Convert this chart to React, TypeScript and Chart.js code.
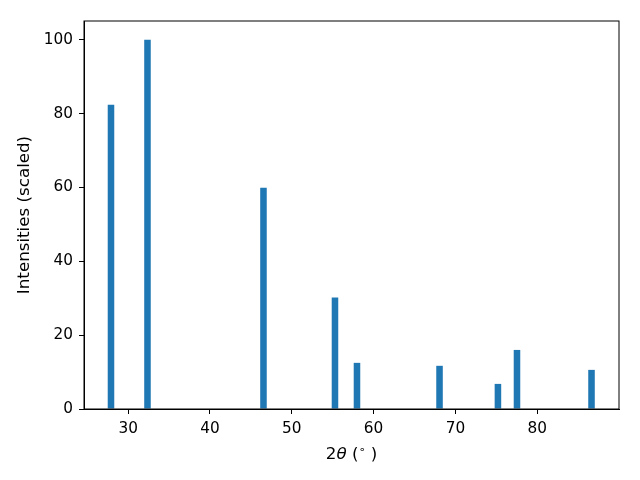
import React, { useEffect, useRef } from "react";
import { Chart, registerables } from "chart.js";

Chart.register(...registerables);

// 2θ peak positions (degrees) and scaled intensities
const twoTheta = [27.9, 32.36, 46.54, 55.28, 57.97, 68.06, 75.2, 77.53, 86.64];
const intensity = [82.4, 100, 59.9, 30.2, 12.5, 11.7, 6.8, 16.0, 10.6];
const xTicks = [30, 40, 50, 60, 70, 80];
const yTicks = [0, 20, 40, 60, 80, 100];
const xRange = [24.6, 90.0];
const yRange = [0, 105.1];
const barWidthDeg = 0.8;

const yTitle = "Intensities (scaled)";

const FONT = "'DejaVu Sans', sans-serif";
const BLUE = "#1f77b4";
const TICK_SIZE = 15.3;
const LABEL_SIZE = 16.7;

const framePlugin = {
  id: "frame",
  afterDraw(chart: any) {
    const { ctx, chartArea } = chart;
    ctx.save();
    ctx.strokeStyle = "#000";
    ctx.lineWidth = 1;
    ctx.strokeRect(chartArea.left, chartArea.top, chartArea.right - chartArea.left, chartArea.bottom - chartArea.top);
    ctx.restore();
  },
};

const xTitlePlugin = {
  id: "xTitle",
  afterDraw(chart: any) {
    const { ctx, chartArea } = chart;
    const cx = (chartArea.left + chartArea.right) / 2;
    const base = chartArea.bottom + 50;
    const normal = `${LABEL_SIZE}px ${FONT}`;
    const italic = `italic ${LABEL_SIZE}px ${FONT}`;
    const small = `11px ${FONT}`;
    const parts: { t: string; f: string; dy: number }[] = [
      { t: "2", f: normal, dy: 0 },
      { t: "θ", f: italic, dy: 0 },
      { t: " (", f: normal, dy: 0 },
      { t: "∘", f: small, dy: -6 },
      { t: " )", f: normal, dy: 0 },
    ];
    ctx.save();
    let total = 0;
    const widths = parts.map((p) => {
      ctx.font = p.f;
      const w = ctx.measureText(p.t).width;
      total += w;
      return w;
    });
    let x = cx - total / 2;
    ctx.fillStyle = "#000";
    ctx.textBaseline = "alphabetic";
    ctx.textAlign = "left";
    parts.forEach((p, i) => {
      ctx.font = p.f;
      ctx.fillText(p.t, x, base + p.dy);
      x += widths[i];
    });
    ctx.restore();
  },
};

export default function App() {
  const ref = useRef<HTMLCanvasElement | null>(null);

  useEffect(() => {
    if (!ref.current) return;
    const sorted = [...twoTheta].sort((a, b) => a - b);
    let minGap = Infinity;
    for (let i = 1; i < sorted.length; i++) minGap = Math.min(minGap, sorted[i] - sorted[i - 1]);
    const pct = barWidthDeg / minGap;

    const chart = new Chart(ref.current, {
      type: "bar",
      data: {
        datasets: [
          {
            data: twoTheta.map((x, i) => ({ x, y: intensity[i] })),
            backgroundColor: BLUE,
            borderWidth: 0,
            barPercentage: pct,
            categoryPercentage: 1,
          },
        ],
      },
      options: {
        animation: false,
        responsive: true,
        maintainAspectRatio: false,
        layout: { padding: { top: 21, right: 21, left: 0, bottom: 0 } },
        plugins: { legend: { display: false }, tooltip: { enabled: false } },
        scales: {
          x: {
            type: "linear",
            min: xRange[0],
            max: xRange[1],
            offset: false,
            afterBuildTicks: (s: any) => {
              s.ticks = xTicks.map((v) => ({ value: v }));
            },
            afterFit: (s: any) => {
              s.height = 71;
            },
            grid: { offset: false, drawOnChartArea: false, drawTicks: true, tickLength: 5, color: "#000" },
            border: { display: true, color: "#000" },
            ticks: { color: "#000", font: { family: FONT, size: TICK_SIZE }, padding: 6, maxRotation: 0 },
          },
          y: {
            type: "linear",
            min: yRange[0],
            max: yRange[1],
            afterBuildTicks: (s: any) => {
              s.ticks = yTicks.map((v) => ({ value: v }));
            },
            afterFit: (s: any) => {
              s.width = 84;
            },
            grid: { drawOnChartArea: false, drawTicks: true, tickLength: 5, color: "#000" },
            border: { display: true, color: "#000" },
            ticks: { color: "#000", font: { family: FONT, size: TICK_SIZE }, padding: 6 },
            title: {
              display: true,
              text: yTitle,
              color: "#000",
              font: { family: FONT, size: LABEL_SIZE },
              padding: { top: 15, bottom: 0 },
            },
          },
        },
      },
      plugins: [framePlugin, xTitlePlugin],
    });
    return () => chart.destroy();
  }, []);

  return (
    <div style={{ position: "absolute", left: 0, top: 0, width: 640, height: 480, background: "#fff" }}>
      <canvas ref={ref} />
    </div>
  );
}
